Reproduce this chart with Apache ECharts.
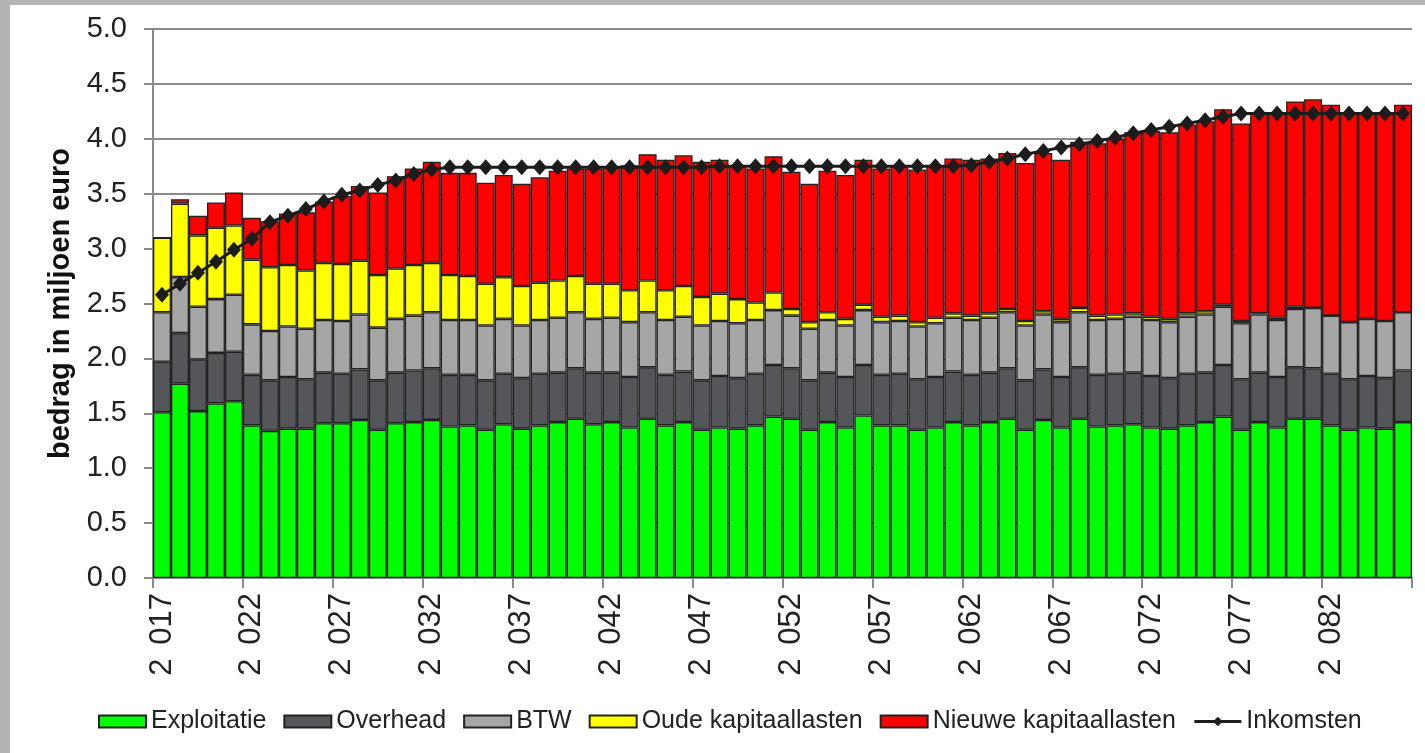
<!DOCTYPE html>
<html>
<head>
<meta charset="utf-8">
<script src="https://cdn.jsdelivr.net/npm/echarts@6/dist/echarts.min.js"></script>
<style>
  html, body { margin: 0; padding: 0; width: 1425px; height: 753px; background: #b4b4b4; overflow: hidden; }
  #chart { position: absolute; left: 10px; top: 5px; width: 1415px; height: 748px; background: #ffffff; }
</style>
</head>
<body>
<div id="chart"></div>
<script>
const years = ['2017','2018','2019','2020','2021','2022','2023','2024','2025','2026',
  '2027','2028','2029','2030','2031','2032','2033','2034','2035','2036',
  '2037','2038','2039','2040','2041','2042','2043','2044','2045','2046',
  '2047','2048','2049','2050','2051','2052','2053','2054','2055','2056',
  '2057','2058','2059','2060','2061','2062','2063','2064','2065','2066',
  '2067','2068','2069','2070','2071','2072','2073','2074','2075','2076',
  '2077','2078','2079','2080','2081','2082','2083','2084','2085','2086'];

const exploitatie = [1.51,1.77,1.52,1.59,1.61,1.39,1.34,1.36,1.36,1.41,
  1.41,1.44,1.35,1.41,1.42,1.44,1.38,1.39,1.35,1.40,
  1.36,1.39,1.42,1.45,1.40,1.42,1.37,1.45,1.39,1.42,
  1.35,1.37,1.36,1.39,1.47,1.45,1.35,1.42,1.37,1.48,
  1.39,1.39,1.35,1.37,1.42,1.39,1.42,1.45,1.35,1.44,
  1.37,1.45,1.38,1.39,1.40,1.37,1.36,1.39,1.42,1.47,
  1.35,1.42,1.37,1.45,1.45,1.39,1.35,1.37,1.36,1.42];

const overhead = [0.46,0.46,0.47,0.46,0.45,0.46,0.46,0.47,0.45,0.46,
  0.45,0.46,0.45,0.46,0.47,0.47,0.47,0.46,0.45,0.46,
  0.46,0.47,0.45,0.46,0.47,0.45,0.46,0.47,0.46,0.46,
  0.45,0.47,0.46,0.47,0.47,0.46,0.45,0.45,0.46,0.46,
  0.46,0.47,0.46,0.46,0.46,0.46,0.45,0.46,0.45,0.46,
  0.46,0.47,0.47,0.47,0.47,0.47,0.46,0.47,0.45,0.47,
  0.46,0.45,0.46,0.47,0.46,0.47,0.46,0.47,0.46,0.47];

const btw = [0.45,0.51,0.48,0.49,0.52,0.46,0.45,0.46,0.46,0.48,
  0.48,0.50,0.48,0.49,0.50,0.51,0.50,0.50,0.50,0.50,
  0.48,0.49,0.50,0.51,0.49,0.50,0.50,0.50,0.50,0.50,
  0.50,0.50,0.50,0.49,0.50,0.48,0.47,0.48,0.47,0.50,
  0.48,0.48,0.48,0.49,0.49,0.50,0.50,0.51,0.50,0.50,
  0.50,0.50,0.50,0.50,0.51,0.51,0.51,0.52,0.53,0.53,
  0.51,0.53,0.52,0.53,0.55,0.53,0.52,0.52,0.52,0.53];

const oudeKapitaallasten = [0.68,0.67,0.65,0.65,0.63,0.59,0.58,0.56,0.53,0.52,
  0.52,0.49,0.48,0.46,0.46,0.45,0.41,0.40,0.38,0.38,
  0.36,0.34,0.34,0.33,0.32,0.31,0.29,0.29,0.27,0.28,
  0.26,0.25,0.22,0.16,0.16,0.06,0.06,0.07,0.06,0.05,
  0.05,0.05,0.04,0.05,0.04,0.04,0.04,0.03,0.04,0.03,
  0.03,0.04,0.04,0.04,0.03,0.03,0.03,0.03,0.03,0.02,
  0.02,0.01,0.02,0.02,0,0,0,0,0,0];

const nieuweKapitaallasten = [0.00,0.04,0.18,0.23,0.30,0.38,0.42,0.47,0.53,0.56,
  0.62,0.68,0.75,0.84,0.88,0.92,0.93,0.94,0.92,0.93,
  0.93,0.96,1.00,0.98,1.05,1.07,1.14,1.15,1.19,1.19,
  1.23,1.22,1.22,1.22,1.24,1.25,1.26,1.29,1.31,1.32,
  1.35,1.36,1.39,1.38,1.41,1.42,1.41,1.42,1.44,1.44,
  1.45,1.51,1.57,1.60,1.65,1.69,1.70,1.72,1.73,1.78,
  1.80,1.82,1.86,1.87,1.90,1.92,1.90,1.87,1.89,1.89];

const inkomsten = [2.58,2.68,2.78,2.88,2.99,3.09,3.24,3.30,3.36,3.43,
  3.49,3.53,3.58,3.62,3.68,3.72,3.74,3.74,3.74,3.74,
  3.74,3.74,3.74,3.74,3.74,3.74,3.74,3.74,3.74,3.74,
  3.74,3.75,3.75,3.75,3.75,3.75,3.75,3.75,3.75,3.75,
  3.75,3.75,3.75,3.75,3.75,3.76,3.79,3.82,3.86,3.89,
  3.92,3.95,3.98,4.01,4.05,4.08,4.11,4.14,4.17,4.20,
  4.23,4.23,4.23,4.23,4.23,4.23,4.23,4.23,4.23,4.23];

const FONT = '"Liberation Sans", Arial, sans-serif';
const chart = echarts.init(document.getElementById('chart'), null, { renderer: 'canvas' });

function barSeries(name, data, color) {
  return {
    name: name, type: 'bar', stack: 'total', data: data,
    barCategoryGap: '0%',
    itemStyle: { color: color, borderColor: '#222222', borderWidth: 1.3 },
    emphasis: { disabled: true },
    animation: false
  };
}

chart.setOption({
  animation: false,
  textStyle: { fontFamily: FONT },
  grid: { left: 143, right: 13, top: 24, bottom: 175, containLabel: false },
  legend: {
    left: 88, top: 704, padding: 0,
    itemWidth: 47, itemHeight: 12, itemGap: 17,
    textStyle: { fontFamily: FONT, fontSize: 25, color: '#222222' },
    data: [
      { name: 'Exploitatie', icon: 'rect' },
      { name: 'Overhead', icon: 'rect' },
      { name: 'BTW', icon: 'rect' },
      { name: 'Oude kapitaallasten', icon: 'rect' },
      { name: 'Nieuwe kapitaallasten', icon: 'rect' },
      { name: 'Inkomsten', lineStyle: { width: 3, color: '#1c1c1c' } }
    ]
  },
  xAxis: {
    type: 'category', data: years, boundaryGap: true,
    axisLine: { show: true, lineStyle: { color: '#8a8a8a', width: 2 } },
    axisTick: { show: true, interval: 4, length: 10, lineStyle: { color: '#8a8a8a', width: 2 } },
    axisLabel: {
      interval: 4, rotate: 90, margin: 15,
      fontFamily: FONT, fontSize: 31, color: '#222222',
      formatter: function (v) { return v.charAt(0) + ' \u2006' + v.slice(1); }
    },
    splitLine: { show: false }
  },
  yAxis: {
    type: 'value', min: 0, max: 5, interval: 0.5,
    name: 'bedrag in miljoen euro', nameLocation: 'middle', nameGap: 77,
    nameTextStyle: { fontFamily: FONT, fontSize: 29, fontWeight: 'bold', color: '#111111' },
    axisLine: { show: true, lineStyle: { color: '#8a8a8a', width: 2 } },
    axisTick: { show: true, length: 9, lineStyle: { color: '#8a8a8a', width: 2 } },
    axisLabel: {
      margin: 26, fontFamily: FONT, fontSize: 29, color: '#222222',
      formatter: function (v) { return v.toFixed(1); }
    },
    splitLine: { show: true, lineStyle: { color: '#8a8a8a', width: 2 } }
  },
  series: [
    barSeries('Exploitatie', exploitatie, '#00ff00'),
    barSeries('Overhead', overhead, '#55565a'),
    barSeries('BTW', btw, '#a6a6a6'),
    barSeries('Oude kapitaallasten', oudeKapitaallasten, '#ffff00'),
    barSeries('Nieuwe kapitaallasten', nieuweKapitaallasten, '#ff0000'),
    {
      name: 'Inkomsten', type: 'line', data: inkomsten, z: 5,
      symbol: 'diamond', symbolSize: [14, 16], showAllSymbol: true,
      lineStyle: { color: '#1c1c1c', width: 3 },
      itemStyle: { color: '#1c1c1c' },
      emphasis: { disabled: true },
      animation: false
    }
  ]
});
</script>
</body>
</html>
